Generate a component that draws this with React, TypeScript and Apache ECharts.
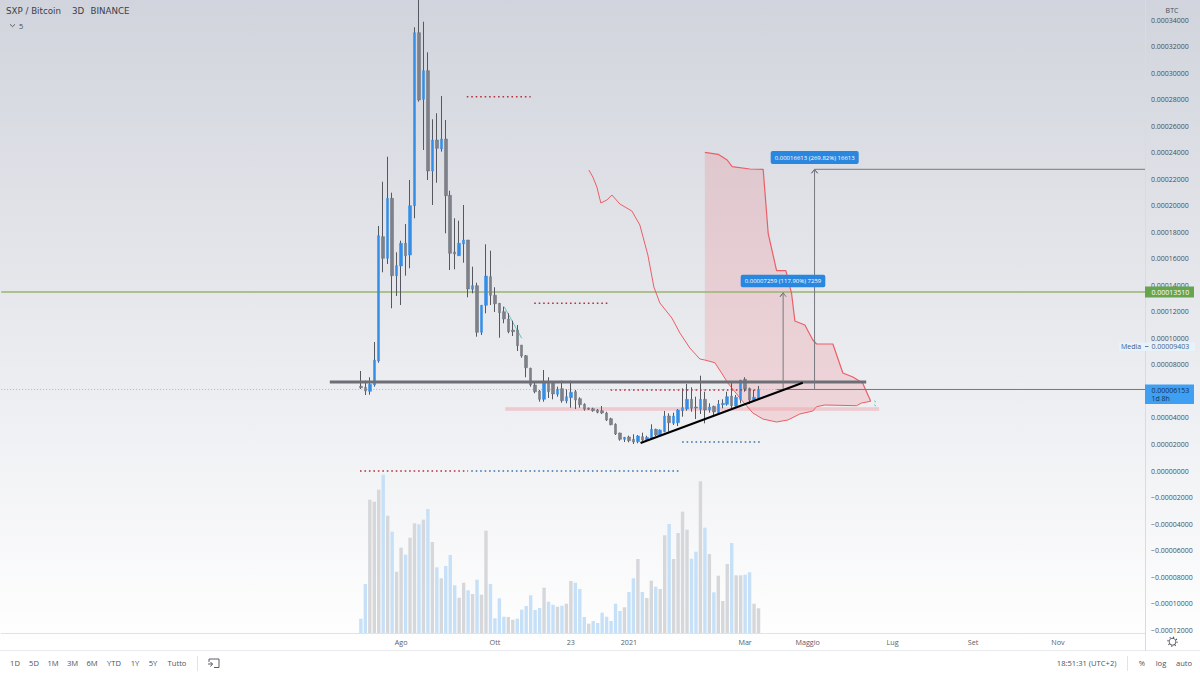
import { useEffect, useRef } from "react"
import * as echarts from "echarts"

// prices are kept in satoshi (1e-8 BTC), the axis labels divide them back
const opens = [6392, 6317, 6015, 6490, 8302, 17683, 16052, 20581, 14739, 15471, 17185, 16302, 20022, 33079, 28052, 30211, 22641, 24981, 24301, 25056, 20807, 16528, 16249, 17132, 17434, 13713, 13985, 10468, 12505, 14664, 13260, 12656, 12022, 11471, 10641, 10641, 9509, 8702, 7751, 6490, 6038, 5411, 6739, 6664, 5789, 6211, 5283, 5532, 5985, 5456, 5034, 4755, 4702, 4604, 4551, 4377, 3947, 3524, 2868, 2392, 2566, 2392, 2211, 2589, 2340, 2438, 3147, 2664, 2966, 4151, 3600, 3645, 4551, 4679, 5411, 4830, 4656, 5411, 4604, 4883, 4400, 5004, 5034, 5660, 4906, 5411, 6921, 6241, 5358, 5487]
const closes = [6287, 6038, 6543, 8377, 17758, 16052, 20581, 14739, 15494, 17185, 16249, 20022, 33079, 27999, 30211, 22641, 24981, 24354, 25056, 20777, 16430, 16377, 17185, 17434, 13736, 13985, 10468, 12505, 14717, 13260, 12626, 11947, 11471, 10513, 10513, 9456, 8679, 7796, 6490, 5985, 5411, 6694, 5985, 5811, 6166, 5306, 5607, 5939, 5358, 5004, 4656, 4656, 4551, 4430, 4377, 3849, 3494, 2792, 2392, 2543, 2287, 2189, 2641, 2340, 2543, 3147, 2717, 3094, 4151, 3645, 4151, 4604, 4777, 5411, 4732, 4755, 5411, 4604, 4830, 4453, 5056, 5109, 5607, 4928, 5562, 6868, 6189, 5358, 5562, 6153]
const lows = [6189, 5736, 5758, 6362, 8173, 14996, 15622, 12279, 13207, 12528, 14739, 15298, 19071, 27871, 24226, 21962, 20075, 21758, 24098, 17939, 15169, 15222, 16226, 15720, 13109, 13411, 10136, 10264, 11902, 12528, 12000, 10060, 11147, 10392, 10188, 9056, 8551, 7072, 6362, 5864, 5230, 5230, 5509, 5411, 5607, 5155, 5109, 4777, 4679, 4777, 4551, 4604, 4475, 4355, 4302, 3774, 3449, 2717, 2287, 2189, 2166, 2038, 2091, 2264, 2264, 2392, 2641, 2641, 2921, 2966, 3472, 3396, 4098, 4551, 4475, 3924, 4302, 3600, 4400, 4226, 4302, 4732, 4928, 4732, 4853, 5109, 5985, 5056, 5230, 5411]
const highs = [7547, 6815, 7072, 9736, 18490, 21833, 23720, 21003, 16505, 17381, 18641, 21962, 33486, 35546, 33909, 31599, 26543, 26996, 28301, 26490, 21154, 19071, 18890, 20075, 17434, 15418, 14211, 12528, 17109, 16626, 13864, 12679, 12400, 11902, 11343, 11019, 9509, 8755, 7796, 6694, 6113, 7622, 7072, 6739, 6362, 6815, 6166, 6815, 6113, 5562, 5109, 4777, 4777, 4679, 4906, 4475, 4023, 3600, 2891, 2566, 2664, 2770, 2717, 2891, 2664, 3524, 3192, 3147, 4528, 4355, 4400, 4679, 6241, 6566, 6317, 5607, 7192, 5985, 5109, 4928, 5358, 5411, 5985, 6739, 5736, 6868, 7072, 6287, 6113, 6415]

const volumes = [143, 490, 1333, 1313, 1433, 1583, 1173, 1013, 613, 853, 783, 953, 1097, 1087, 1133, 1240, 910, 657, 547, 670, 780, 477, 353, 503, 427, 390, 533, 383, 1023, 490, 147, 347, 163, 160, 133, 143, 233, 270, 377, 230, 250, 453, 313, 283, 263, 273, 293, 520, 503, 440, 160, 93, 120, 100, 203, 163, 120, 293, 220, 257, 410, 547, 740, 410, 350, 523, 463, 440, 977, 1090, 740, 1000, 1213, 1033, 743, 813, 1517, 1053, 790, 407, 573, 320, 690, 900, 577, 577, 583, 607, 293, 247]
// b = light blue bar, g = light grey bar
const volumeTones = ["b","b","g","g","g","b","g","b","g","g","b","g","g","b","g","b","g","b","g","b","b","b","g","g","b","g","b","g","g","b","b","b","b","g","g","b","b","b","b","b","b","g","b","b","g","b","g","g","b","b","b","g","b","b","b","b","b","b","b","g","b","b","g","b","g","g","b","g","g","b","g","g","g","g","b","b","g","b","g","b","g","g","g","b","g","g","b","b","g","g"]

// the other lines on the chart, as [candle index, price] pairs
const lowerBand = [[51.03, 22716], [51.92, 22188], [52.82, 21433], [53.71, 20226], [55.06, 20452], [56.18, 20830], [57.97, 20150], [60.65, 19622], [62.44, 18566], [64.23, 16302], [65.58, 13886], [66.92, 12679], [69.61, 11547], [71.4, 10415], [73.63, 9283], [75.87, 8453], [76.99, 8377], [79.23, 8173], [80.73, 7396], [82.14, 6641], [85.5, 5230], [87.73, 4377], [89.97, 3924], [93.04, 3698], [95.57, 3849], [98.25, 4302], [101.16, 4528], [101.99, 4853], [103.85, 4981], [110.95, 4928], [112.07, 5132], [114.08, 5260]]
const upperBand = [[76.99, 24052], [79.97, 23901], [81.98, 23471], [83.1, 22966], [87.06, 22792], [90.04, 22769], [91.16, 17939], [91.92, 16807], [93.04, 15117], [95.12, 15117], [96.39, 13411], [97.14, 11321], [99.37, 11019], [101.16, 9887], [101.99, 9585], [105.64, 9585], [107.88, 7396], [110.12, 7094], [112.29, 6641], [113.92, 5411], [114.08, 5260]]
const trendLine = [[62.6, 2113], [98.9, 6664]]
const tealLine = [[32.07, 12400], [36, 10015]]
const tealMarks = [[[114.9, 5300], [115.3, 5200]], [[114.9, 5000], [115.3, 4900]]]
const resistance = 6717
const support = 4679
const greenLevel = 13510
const lastPrice = 6153
const mediaPrice = 9403
const arrowLow = [[93.04, 6153], [175.5, 6153]]
const arrowOne = [[94.51, 6153], [94.51, 13450], [93.84, 13150], [94.51, 13450], [95.18, 13150]]
const arrowTwo = [[175.5, 22769], [101.54, 22769], [100.87, 22470], [101.54, 22769], [102.21, 22470], [101.54, 22769], [101.54, 6153]]
const redDots = [[[23.7, 28248], [38, 28248]], [[38.8, 12656], [55.3, 12656]], [[55.9, 6113], [88.4, 6113]], [[-0.2, 0], [24, 0]]]
const blueDots = [[[71.9, 2189], [89.3, 2189]], [[24.7, 0], [71.2, 0]]]

const tickLabels = [34000, 32000, 30000, 28000, 26000, 24000, 22000, 20000, 18000, 16000, 14000, 12000, 10000, 8000, 4000, 2000, 0, -2000, -4000, -6000, -8000, -10000, -12000]
const xTickLabels: Record<number, string> = { 89: "Ago", 110: "Ott", 127: "23", 140: "2021", 166: "Mar", 180: "Maggio", 199: "Lug", 217: "Set", 236: "Nov" }
const rangeButtons: [string, number][] = [["1D", 15], ["5D", 34], ["1M", 53], ["3M", 72.5], ["6M", 92], ["YTD", 114], ["1Y", 135], ["5Y", 153], ["Tutto", 177]]

const FIRST_CANDLE = 80
const CATEGORY_COUNT = 256
const start = Date.UTC(2020, 5, 8)
const categories = Array.from({ length: CATEGORY_COUNT }, (_, k) =>
  new Date(start + k * 3 * 86400000).toISOString().slice(0, 10)
)

const FONT = "'Open Sans', sans-serif"

function formatPrice(v: number) {
  const s = (Math.abs(v) / 1e8).toFixed(8)
  return v < 0 ? "\u2212" + s : s
}

function lineSeries(name: string, data: number[][], color: string, width: number, z: number, type: any = "solid") {
  return {
    name,
    type: "line",
    xAxisIndex: 1,
    yAxisIndex: 0,
    data,
    symbol: "none",
    silent: true,
    z,
    lineStyle: { color, width, type },
  }
}

function text(x: number, y: number, value: string, fill: string, size: number, align = "left", family = FONT) {
  return {
    type: "text",
    x,
    y,
    z: 50,
    silent: true,
    style: { text: value, fill, font: `${size}px ${family}`, textAlign: align, textVerticalAlign: "middle" },
  }
}

function tag(x: number, y: number, w: number, h: number, label: string) {
  return [
    { type: "rect", z: 45, silent: true, shape: { x, y, width: w, height: h, r: 2 }, style: { fill: "#2a87e0" } },
    text(x + w / 2, y + h / 2, label, "#ffffff", 6, "center"),
  ]
}

export default function App() {
  const chartRef = useRef<HTMLDivElement>(null)

  useEffect(() => {
    if (!chartRef.current) return
    const chart = echarts.init(chartRef.current, null, { renderer: "svg" })

    const candleRows = opens.map((o, i) => [categories[i + FIRST_CANDLE], o, closes[i], lows[i], highs[i]])
    const bodyRows = opens.map((o, i) => [
      categories[i + FIRST_CANDLE], o, closes[i], Math.min(o, closes[i]), Math.max(o, closes[i]),
    ])
    const volumeRows = volumes.map((v, i) => ({
      value: [categories[i + FIRST_CANDLE], v],
      itemStyle: { color: volumeTones[i] === "b" ? "#c6e0f7" : "#d6d7da" },
    }))
    const bandOutline = [...upperBand, ...[...lowerBand].reverse().filter(p => p[0] >= 76.99)]

    const option = {
      animation: false,
      backgroundColor: new echarts.graphic.LinearGradient(0, 0, 0, 1, [
        { offset: 0, color: "#d1d4dc" },
        { offset: 0.9644, color: "#ffffff" },
        { offset: 1, color: "#ffffff" },
      ]),
      grid: { left: 1.2, right: 55, top: 0, bottom: 42 },
      xAxis: [
        {
          type: "category",
          data: categories,
          axisLine: { onZero: false, lineStyle: { color: "#e0e3eb" } },
          axisTick: { show: false },
          splitLine: { show: false },
          axisLabel: {
            interval: (k: number) => k in xTickLabels,
            formatter: (_: string, k: number) => xTickLabels[k] ?? "",
            color: "#5d606b",
            fontFamily: FONT,
            fontSize: 7.2,
            margin: 5,
          },
        },
        { type: "value", show: false, min: -FIRST_CANDLE - 0.5, max: CATEGORY_COUNT - FIRST_CANDLE - 0.5 },
      ],
      yAxis: [
        {
          type: "value",
          position: "right",
          min: -12226,
          max: 35546,
          splitLine: { show: false },
          axisTick: { show: false },
          axisLine: { show: false },
          axisLabel: {
            customValues: tickLabels,
            formatter: (v: number) => formatPrice(v),
            color: "#4a4d57",
            fontFamily: FONT,
            fontSize: 7,
            margin: 6,
            align: "left",
          },
        },
        { type: "value", show: false, min: 0, max: 6330 },
      ],
      series: [
        {
          name: "Volume",
          type: "bar",
          xAxisIndex: 0,
          yAxisIndex: 1,
          barWidth: 3.4,
          z: 1,
          silent: true,
          data: volumeRows,
        },
        {
          name: "Area",
          type: "custom",
          xAxisIndex: 1,
          yAxisIndex: 0,
          z: 1,
          silent: true,
          clip: true,
          data: [[0, 0]],
          renderItem: (_: any, api: any) => ({
            type: "polygon",
            shape: { points: bandOutline.map(p => api.coord(p)) },
            style: { fill: "rgba(240,110,120,0.2)" },
          }),
        },
        lineSeries("Prezzo", [[-80.5, lastPrice], [175.5, lastPrice]], "#8fbce8", 1, 2, [1, 2]),
        lineSeries("Supporto", [[32.3, support], [116, support]], "rgba(238,170,175,0.55)", 3.5, 2),
        lineSeries("Verde", [[-80.5, greenLevel], [175.5, greenLevel]], "#9ab56f", 1.3, 2),
        lineSeries("Banda inferiore", lowerBand, "#ec5e66", 1, 3),
        lineSeries("Banda superiore", upperBand, "#ec5e66", 1.2, 3),
        lineSeries("Teal", tealLine, "#59c6c0", 1, 3),
        ...tealMarks.map((d, i) => lineSeries(`Teal ${i}`, d, "#59c6c0", 1, 3)),
        {
          name: "Stoppini",
          type: "candlestick",
          xAxisIndex: 0,
          yAxisIndex: 0,
          barWidth: 1,
          z: 4,
          silent: true,
          encode: { x: 0, y: [1, 2, 3, 4] },
          itemStyle: { color: "#55585f", color0: "#55585f", borderColor: "#55585f", borderColor0: "#55585f", borderWidth: 1 },
          data: candleRows,
        },
        {
          name: "SXP / Bitcoin",
          type: "candlestick",
          xAxisIndex: 0,
          yAxisIndex: 0,
          barWidth: 3,
          z: 5,
          silent: true,
          encode: { x: 0, y: [1, 2, 3, 4] },
          itemStyle: { color: "#358ee6", color0: "#7f818a", borderColor: "#358ee6", borderColor0: "#6f7178", borderWidth: 0.5 },
          data: bodyRows,
        },
        lineSeries("Resistenza", [[-6.95, resistance], [113.1, resistance]], "#6d6e76", 2.8, 6),
        lineSeries("Base", arrowLow, "#77787f", 1, 6),
        lineSeries("Misura 1", arrowOne, "#77787f", 1, 6),
        lineSeries("Misura 2", arrowTwo, "#77787f", 1, 6),
        lineSeries("Trend", trendLine, "#000000", 2.2, 7),
        ...redDots.map((d, i) => lineSeries(`Rosso ${i}`, d, "#b5323f", 1.6, 6, [1.6, 2.87])),
        ...blueDots.map((d, i) => lineSeries(`Blu ${i}`, d, "#3a74b2", 1.6, 6, [1.6, 2.87])),
      ],
      graphic: [
        text(6, 11, "SXP / Bitcoin", "#3b3e48", 8.7, "left", "'DejaVu Sans', sans-serif"),
        text(72, 11, "3D", "#3b3e48", 8.7, "left", "'DejaVu Sans', sans-serif"),
        text(90.5, 11, "BINANCE", "#3b3e48", 8.7, "left", "'DejaVu Sans', sans-serif"),
        { type: "polyline", z: 50, silent: true, shape: { points: [[10, 24.3], [12.5, 26.7], [15, 24.3]] }, style: { stroke: "#4a4d57", fill: "none", lineWidth: 0.9 } },
        text(19, 25.7, "5", "#4a4d57", 7.5),

        ...tag(740.7, 274.7, 84.6, 12.6, "0.00007259 (117.90%) 7259"),
        ...tag(770.7, 151, 88, 13, "0.00016613 (269.82%) 16613"),

        { type: "line", z: 40, silent: true, shape: { x1: 1145.5, y1: 0, x2: 1145.5, y2: 651 }, style: { stroke: "#d9dbe1", lineWidth: 1 } },
        text(1172, 10, "BTC", "#4a4d57", 7, "center"),

        { type: "rect", z: 44, silent: true, shape: { x: 1119, y: 342.5, width: 76, height: 8.5 }, style: { fill: "#e8f2fb" } },
        text(1121, 346.5, "Media", "#3f5f80", 7),
        { type: "line", z: 50, silent: true, shape: { x1: 1145, y1: 346.5, x2: 1148.5, y2: 346.5 }, style: { stroke: "#3f5f80", lineWidth: 0.8 } },
        text(1151.5, 346.5, formatPrice(mediaPrice), "#3f5f80", 7),

        { type: "rect", z: 44, silent: true, shape: { x: 1145, y: 286.5, width: 49, height: 11 }, style: { fill: "#68a44d" } },
        text(1151.5, 292, formatPrice(greenLevel), "#ffffff", 7),

        { type: "rect", z: 44, silent: true, shape: { x: 1145, y: 384.5, width: 49, height: 19.5 }, style: { fill: "#3f9ff2" } },
        text(1151.5, 390, formatPrice(lastPrice), "#12324f", 7),
        text(1151.5, 398.5, "1d 8h", "#12324f", 7),

        { type: "ring", z: 50, silent: true, shape: { cx: 1172.5, cy: 641.7, r: 3.8, r0: 3 }, style: { fill: "#4a4d57" } },
        { type: "circle", z: 50, silent: true, shape: { cx: 1172.5, cy: 641.7, r: 4.6 }, style: { fill: "none", stroke: "#4a4d57", lineWidth: 1.1, lineDash: [1.2, 2.4] } },

        // toolbar
        { type: "rect", z: 30, silent: true, shape: { x: 0, y: 651, width: 1200, height: 24 }, style: { fill: "#ffffff" } },
        { type: "line", z: 31, silent: true, shape: { x1: 0, y1: 650.5, x2: 1200, y2: 650.5 }, style: { stroke: "#e8eaee", lineWidth: 1 } },
        ...rangeButtons.map(([label, x]) => text(x, 663, label, "#50535e", 7.6, "center")),
        { type: "line", z: 50, silent: true, shape: { x1: 197.5, y1: 656, x2: 197.5, y2: 671 }, style: { stroke: "#e0e3eb", lineWidth: 1 } },
        { type: "polyline", z: 50, silent: true, shape: { points: [[209, 662], [209, 659], [219, 659], [219, 667.5], [214, 667.5]] }, style: { stroke: "#4a4d57", fill: "none", lineWidth: 0.9 } },
        { type: "polyline", z: 50, silent: true, shape: { points: [[208, 664], [212.5, 664], [210.5, 662]] }, style: { stroke: "#4a4d57", fill: "none", lineWidth: 0.9 } },
        { type: "polyline", z: 50, silent: true, shape: { points: [[212.5, 664], [210.5, 666.5]] }, style: { stroke: "#4a4d57", fill: "none", lineWidth: 0.9 } },
        text(1116.5, 663, "18:51:31 (UTC+2)", "#50535e", 7.6, "right"),
        { type: "line", z: 50, silent: true, shape: { x1: 1127.5, y1: 656, x2: 1127.5, y2: 671 }, style: { stroke: "#e0e3eb", lineWidth: 1 } },
        text(1142, 663, "%", "#50535e", 7.6, "center"),
        text(1161, 663, "log", "#50535e", 7.6, "center"),
        text(1184, 663, "auto", "#50535e", 7.6, "center"),
      ],
    }

    chart.setOption(option as any)

    return () => {
      chart.dispose()
    }
  }, [])

  return <div ref={chartRef} style={{ position: "fixed", left: 0, top: 0, width: 1200, height: 675 }} />
}
